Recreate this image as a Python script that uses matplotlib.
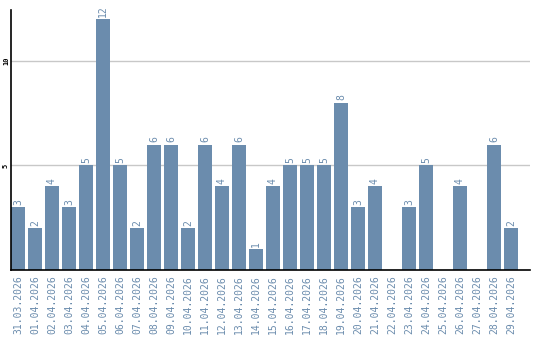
import matplotlib
matplotlib.use("Agg")
import matplotlib.pyplot as plt

dates = ["31.03.2026", "01.04.2026", "02.04.2026", "03.04.2026", "04.04.2026",
         "05.04.2026", "06.04.2026", "07.04.2026", "08.04.2026", "09.04.2026",
         "10.04.2026", "11.04.2026", "12.04.2026", "13.04.2026", "14.04.2026",
         "15.04.2026", "16.04.2026", "17.04.2026", "18.04.2026", "19.04.2026",
         "20.04.2026", "21.04.2026", "22.04.2026", "23.04.2026", "24.04.2026",
         "25.04.2026", "26.04.2026", "27.04.2026", "28.04.2026", "29.04.2026"]
values = [3, 2, 4, 3, 5, 12, 5, 2, 6, 6, 2, 6, 4, 6, 1, 4, 5, 5, 5, 8,
          3, 4, 0, 3, 5, 0, 4, 0, 6, 2]
yticks = [5, 10]

bar_color = "#6b8cad"
text_color = "#6b8cad"

fig = plt.figure(figsize=(5.4, 3.4), dpi=100)
ax = fig.add_axes([11/540, 70/340, 519/540, 260/340])

x = list(range(len(values)))
ax.bar(x, values, width=0.82, color=bar_color, zorder=2)
for xi, v in zip(x, values):
    if v > 0:
        ax.text(xi, v + 0.12, str(v), rotation=90, ha="center", va="bottom",
                fontsize=7, color=text_color, family="DejaVu Sans Mono")

ax.set_xlim(-0.41, 30.12)
ax.set_ylim(0, 12.44)
ax.set_yticks(yticks)
ax.set_yticklabels([str(t) for t in yticks], rotation=90, va="center",
                   fontsize=5, family="DejaVu Sans Mono", fontweight="bold")
ax.set_xticks(x)
ax.set_xticklabels(dates, rotation=90, fontsize=7, color=text_color,
                   family="DejaVu Sans Mono", va="top", ha="center")
ax.tick_params(axis="both", length=0)
ax.tick_params(axis="y", pad=1.5)
ax.tick_params(axis="x", pad=4)
ax.grid(axis="y", color="#c8c8c8", linewidth=1, zorder=1)
for s in ["top", "right"]:
    ax.spines[s].set_visible(False)
ax.spines["left"].set_color("black")
ax.spines["bottom"].set_color("black")
ax.spines["left"].set_linewidth(1.2)
ax.spines["bottom"].set_linewidth(1.2)
ax.spines["bottom"].set_zorder(3)

fig.savefig("out.png", dpi=100)
